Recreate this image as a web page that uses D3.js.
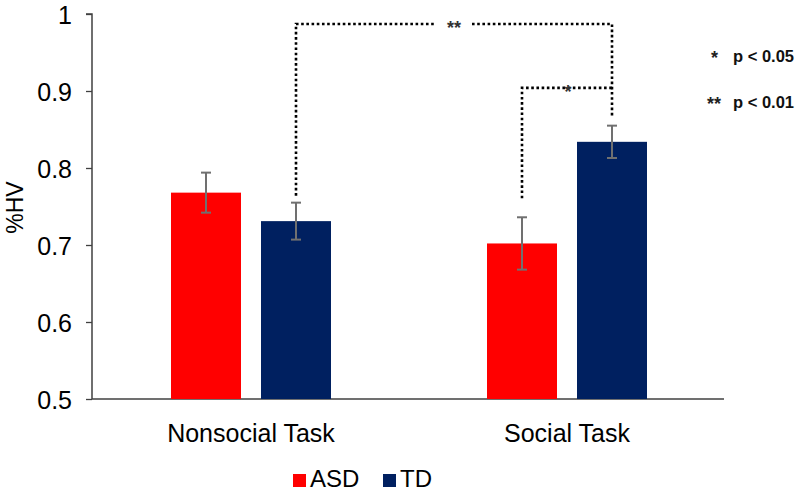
<!DOCTYPE html>
<html>
<head>
<meta charset="utf-8">
<script src="https://cdn.jsdelivr.net/npm/d3@7"></script>
<style>
  html, body { margin: 0; padding: 0; background: #fff; }
  svg { display: block; }
</style>
</head>
<body>
<svg id="chart" width="800" height="491"></svg>
<script>
const categories = ["Nonsocial Task", "Social Task"];
const groups = ["ASD", "TD"];
const colors = ["#FF0000", "#002060"];
const asdValues = [0.768, 0.702];
const asdErrors = [0.026, 0.034];
const tdValues = [0.731, 0.834];
const tdErrors = [0.024, 0.021];
const yTicks = [0.5, 0.6, 0.7, 0.8, 0.9, 1];
const yLabel = "%HV";
const sigNotes = [
  { star: "*", text: "p < 0.05" },
  { star: "**", text: "p < 0.01" }
];

const svg = d3.select("#chart");
const margin = { left: 92, right: 76, top: 14, bottom: 92 };
const W = 800, H = 491;

const x = d3.scaleBand().domain(categories).range([margin.left + 1, W - margin.right + 1]);
const barW = 70, gap = 20;
const gx = g => (g === "ASD" ? -(barW + gap / 2) : gap / 2);
const y = d3.scaleLinear().domain([0.5, 1]).range([H - margin.bottom, margin.top]);

const font = "'Liberation Sans', Arial, sans-serif";
const fs = 25;

// Axes
const yAxis = d3.axisLeft(y).tickValues(yTicks).tickFormat(d => d === 1 ? "1" : d3.format(".1f")(d)).tickSize(6).tickPadding(14);
const yg = svg.append("g").attr("transform", `translate(${margin.left},0)`).call(yAxis);
yg.select(".domain").attr("stroke", "#404040").attr("stroke-width", 1.5).attr("d", `M-6,${y(1)}H0V${y(0.5)}`);
yg.selectAll(".tick line").attr("stroke", "#404040").attr("stroke-width", 1.3);
yg.selectAll(".tick text").attr("font-family", font).attr("font-size", fs).attr("fill", "#000").attr("dy", "0.36em");

const xAxis = d3.axisBottom(x).tickSize(0).tickPadding(25);
const xgAx = svg.append("g").attr("transform", `translate(0,${y(0.5)})`).call(xAxis);
xgAx.select(".domain").attr("stroke", "#404040").attr("stroke-width", 1.5).attr("d", `M${margin.left},0H${W - margin.right}`);
xgAx.selectAll(".tick text").attr("font-family", font).attr("font-size", fs).attr("fill", "#000");

// Y label
svg.append("text")
  .attr("transform", `translate(23,${(y(0.5) + y(1)) / 2 + 1}) rotate(-90)`)
  .attr("text-anchor", "middle")
  .attr("font-family", font).attr("font-size", 23).attr("fill", "#000")
  .text(yLabel);

// Bars
const data = [];
categories.forEach((c, i) => {
  data.push({ cat: c, group: "ASD", v: asdValues[i], e: asdErrors[i], color: colors[0] });
  data.push({ cat: c, group: "TD", v: tdValues[i], e: tdErrors[i], color: colors[1] });
});
const cx = d => x(d.cat) + x.bandwidth() / 2;

svg.append("g").selectAll("rect").data(data).join("rect")
  .attr("x", d => cx(d) + gx(d.group))
  .attr("y", d => y(d.v))
  .attr("width", barW)
  .attr("height", d => y(0.5) - y(d.v))
  .attr("fill", d => d.color);

// Error bars
const eg = svg.append("g").attr("stroke", "#707070").attr("stroke-width", 2);
data.forEach(d => {
  const mx = cx(d) + gx(d.group) + barW / 2;
  eg.append("line").attr("x1", mx).attr("x2", mx).attr("y1", y(d.v + d.e)).attr("y2", y(d.v - d.e));
  eg.append("line").attr("x1", mx - 5).attr("x2", mx + 5).attr("y1", y(d.v + d.e)).attr("y2", y(d.v + d.e));
  eg.append("line").attr("x1", mx - 5).attr("x2", mx + 5).attr("y1", y(d.v - d.e)).attr("y2", y(d.v - d.e));
});

// Significance brackets
const center = (cat, grp) => x(cat) + x.bandwidth() / 2 + gx(grp) + barW / 2;
const dot = { stroke: "#000", "stroke-width": 2.6, "stroke-dasharray": "2.6,2.6", fill: "none" };
function dotted(path) {
  const p = svg.append("path").attr("d", path);
  Object.entries(dot).forEach(([k, v]) => p.attr(k, v));
}
const xL = center("Nonsocial Task", "TD");
const xR = center("Social Task", "TD");
const xM = center("Social Task", "ASD");
const topY = y(0.987);
const midY = y(0.904);
const starFs = 18;
// ** bracket
const starX = (xL + xR) / 2;
dotted(`M${xL},${y(tdValues[0] + tdErrors[0]) - 7}V${topY}H${starX - 18}`);
dotted(`M${starX + 18},${topY}H${xR}V${y(tdValues[1] + tdErrors[1]) - 9}`);
svg.append("text").attr("x", starX).attr("y", topY + 10).attr("text-anchor", "middle")
  .attr("font-family", font).attr("font-size", starFs).attr("font-weight", "bold").attr("fill", "#333").text("**");
// * bracket
const s2 = (xM + xR) / 2;
dotted(`M${xM},${y(asdValues[1] + asdErrors[1]) - 19}V${midY}H${xR}`);
svg.append("text").attr("x", s2 + 1).attr("y", midY + 10).attr("text-anchor", "middle")
  .attr("font-family", font).attr("font-size", starFs).attr("font-weight", "bold").attr("fill", "#333").text("*");

// Significance notes
const nfont = "'Liberation Sans', Arial, sans-serif";
sigNotes.forEach((n, i) => {
  const yy = 62 + i * 46;
  svg.append("text").attr("x", n.star.length === 1 ? 711 : 707).attr("y", yy + 2)
    .attr("font-family", nfont).attr("font-size", starFs).attr("font-weight", "bold").attr("fill", "#222").text(n.star);
  svg.append("text").attr("x", 794).attr("y", yy).attr("text-anchor", "end")
    .attr("font-family", nfont).attr("font-size", 16.5).attr("font-weight", "bold").attr("fill", "#111").text(n.text);
});

// Legend
const legend = svg.append("g").attr("transform", "translate(0,480)");
const legItems = [{ g: groups[0], c: colors[0], x: 293 }, { g: groups[1], c: colors[1], x: 383 }];
legItems.forEach(it => {
  legend.append("rect").attr("x", it.x).attr("y", -6).attr("width", 13).attr("height", 13).attr("fill", it.c);
  legend.append("text").attr("x", it.x + 17).attr("y", 7).attr("font-family", font).attr("font-size", 24).attr("fill", "#000").text(it.g);
});
</script>
</body>
</html>
